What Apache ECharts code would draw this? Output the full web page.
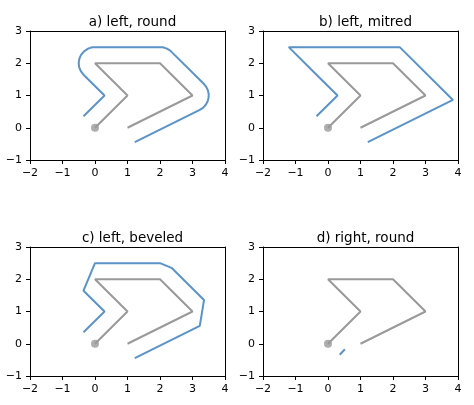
<!DOCTYPE html>
<html>
<head>
<meta charset="UTF-8">
<script src="https://cdn.jsdelivr.net/npm/echarts@6/dist/echarts.min.js"></script>
<style>body{margin:0}#c{width:474px;height:405px}</style>
</head>
<body>
<div id="c"></div>
<script>
var titles = ["a) left, round", "b) left, mitred", "c) left, beveled", "d) right, round"];
var basePath = [[0,0],[1,1],[0,2],[2,2],[3,1],[1,0]];
var xTicks = [-2,-1,0,1,2,3,4];
var yTicks = [-1,0,1,2,3];

// round joins: [kind, ...]; arcs are [center, radius, startDeg, endDeg]
var roundLeft = [
  ["pt", [-0.354,0.354]], ["pt", [0.293,1.0]], ["pt", [-0.354,1.646]],
  ["arc", [0,2], 0.5, 225, 90],
  ["pt", [2,2.5]],
  ["arc", [2,2], 0.5, 90, 45],
  ["pt", [3.354,1.354]],
  ["arc", [3,1], 0.5, 45, -63.4],
  ["pt", [1.224,-0.447]]
];
var mitred = [[-0.354,0.354],[0.293,1.0],[-0.354,1.646],[-1.207,2.5],[2.207,2.5],[3.844,0.863],[1.224,-0.447]];
var beveled = [[-0.354,0.354],[0.293,1.0],[-0.354,1.646],[0,2.5],[2,2.5],[2.354,2.354],[3.354,1.354],[3.224,0.553],[1.224,-0.447]];
var roundRight = [[0.36,-0.34],[0.52,-0.17]];

function expand(spec) {
  var out = [];
  spec.forEach(function (s) {
    if (s[0] === "pt") { out.push(s[1]); return; }
    var c = s[1], r = s[2], a0 = s[3], a1 = s[4], n = 16;
    for (var i = 0; i <= n; i++) {
      var a = (a0 + (a1 - a0) * i / n) * Math.PI / 180;
      out.push([c[0] + r * Math.cos(a), c[1] + r * Math.sin(a)]);
    }
  });
  return out;
}
var offsets = [expand(roundLeft), mitred, beveled, roundRight];

var lefts = [30, 263, 30, 263], tops = [31, 31, 247, 247];
var grid = [], xAxis = [], yAxis = [], title = [], series = [];
var lbl = {color: "#000", fontSize: 11, fontFamily: "DejaVu Sans",
  formatter: function (v) { return String(v).replace("-", "\u2212"); }};
for (var i = 0; i < 4; i++) {
  grid.push({left: lefts[i], top: tops[i], width: 195, height: 129});
  title.push({text: titles[i], left: lefts[i] + 97.5, top: tops[i] - 21, textAlign: "center",
    textStyle: {fontSize: 13.5, fontWeight: "normal", color: "#000", fontFamily: "DejaVu Sans"}});
  var ax = {axisLine: {show: true, onZero: false, lineStyle: {color: "#000"}},
    axisTick: {show: true, length: 4, lineStyle: {color: "#000"}},
    splitLine: {show: false}, axisLabel: lbl};
  xAxis.push(Object.assign({gridIndex: i, type: "value", min: -2, max: 4, interval: 1}, ax));
  yAxis.push(Object.assign({gridIndex: i, type: "value", min: -1, max: 3, interval: 1}, ax));
  // frame top/right
  xAxis.push({gridIndex: i, type: "value", min: -2, max: 4, position: "top", axisLine: {show: true, onZero: false, lineStyle: {color: "#000"}}, axisTick: {show: false}, axisLabel: {show: false}, splitLine: {show: false}});
  yAxis.push({gridIndex: i, type: "value", min: -1, max: 3, position: "right", axisLine: {show: true, onZero: false, lineStyle: {color: "#000"}}, axisTick: {show: false}, axisLabel: {show: false}, splitLine: {show: false}});
  series.push({type: "line", xAxisIndex: 2 * i, yAxisIndex: 2 * i, data: basePath, symbol: "none",
    lineStyle: {color: "#999999", width: 2}, silent: true});
  series.push({type: "scatter", xAxisIndex: 2 * i, yAxisIndex: 2 * i, data: [basePath[0]], symbolSize: 8,
    itemStyle: {color: "#999999"}, silent: true});
  series.push({type: "line", xAxisIndex: 2 * i, yAxisIndex: 2 * i, data: offsets[i], symbol: "none",
    lineStyle: {color: "#5b93c7", width: 2}, silent: true});
}
var chart = echarts.init(document.getElementById("c"));
chart.setOption({animation: false, title: title, grid: grid, xAxis: xAxis, yAxis: yAxis, series: series});
</script>
</body>
</html>
